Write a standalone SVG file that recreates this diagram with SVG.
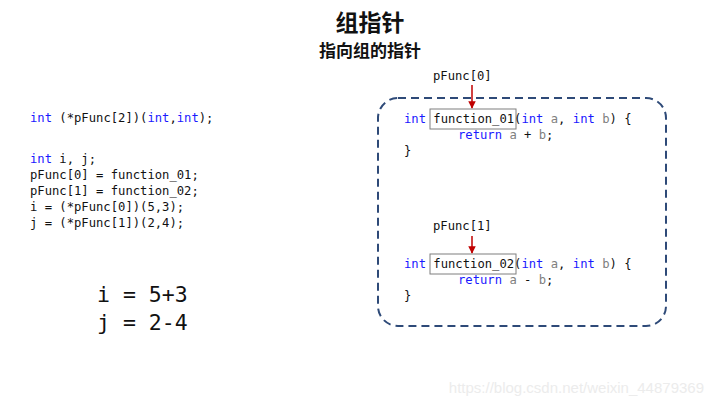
<svg xmlns="http://www.w3.org/2000/svg" width="720" height="405" viewBox="0 0 720 405">
<defs>
<style>
.code{font-family:"DejaVu Sans Mono","Liberation Mono",monospace;font-size:12.2px;fill:#111;white-space:pre}
.kw{fill:#1a1aff}
.pr{fill:#808080}
.big{font-family:"DejaVu Sans Mono","Liberation Mono",monospace;font-size:21.5px;fill:#111;white-space:pre}
.title{font-family:"Noto Sans CJK SC","Noto Sans",sans-serif;font-weight:bold;fill:#111;text-anchor:middle}
.fbox{fill:none;stroke:#7f7f7f;stroke-width:1}
.arrow{stroke:#c00000;stroke-width:1.5;fill:none}
</style>
<marker id="ah" viewBox="0 0 10 10" refX="9" refY="5" markerWidth="5" markerHeight="5" orient="auto">
<path d="M0,0 L10,5 L0,10 z" fill="#c00000"/>
</marker>
</defs>
<rect width="720" height="405" fill="#ffffff"/>
<g id="title">
<text class="title" x="370" y="31" font-size="23">组指针</text>
<text class="title" x="370" y="57" font-size="17">指向组的指针</text>
</g>
<g id="left-code">
<text class="code" x="30" y="122"><tspan class="kw">int</tspan> (*pFunc[2])(<tspan class="kw">int</tspan>,<tspan class="kw">int</tspan>);</text>
<text class="code" x="30" y="163"><tspan class="kw">int</tspan> i, j;</text>
<text class="code" x="30" y="179">pFunc[0] = function_01;</text>
<text class="code" x="30" y="195">pFunc[1] = function_02;</text>
<text class="code" x="30" y="211">i = (*pFunc[0])(5,3);</text>
<text class="code" x="30" y="227">j = (*pFunc[1])(2,4);</text>
</g>
<g id="results">
<text class="big" x="97" y="302">i = 5+3</text>
<text class="big" x="97" y="330">j = 2-4</text>
</g>
<g id="container">
<rect x="378" y="98" width="288" height="228" rx="20" ry="20" fill="none" stroke="#2e4a78" stroke-width="2" stroke-dasharray="8,5"/>
</g>
<g id="function_01">
<rect class="fbox" x="430" y="109" width="86" height="20"/>
<text class="code" x="404" y="123"><tspan class="kw">int</tspan> function_01(<tspan class="kw">int</tspan> <tspan class="pr">a</tspan>, <tspan class="kw">int</tspan> <tspan class="pr">b</tspan>) {</text>
<text class="code" x="458" y="139"><tspan class="kw">return</tspan> <tspan class="pr">a</tspan> + <tspan class="pr">b</tspan>;</text>
<text class="code" x="404" y="155">}</text>
</g>
<g id="function_02">
<rect class="fbox" x="430" y="254" width="86" height="20"/>
<text class="code" x="404" y="268"><tspan class="kw">int</tspan> function_02(<tspan class="kw">int</tspan> <tspan class="pr">a</tspan>, <tspan class="kw">int</tspan> <tspan class="pr">b</tspan>) {</text>
<text class="code" x="458" y="284"><tspan class="kw">return</tspan> <tspan class="pr">a</tspan> - <tspan class="pr">b</tspan>;</text>
<text class="code" x="404" y="300">}</text>
</g>
<g id="pFunc0">
<text class="code" x="433" y="80">pFunc[0]</text>
</g>
<g id="pFunc1">
<text class="code" x="433" y="230">pFunc[1]</text>
</g>
<g id="connectors">
<line class="arrow" x1="472" y1="85" x2="472" y2="108" marker-end="url(#ah)"/>
<line class="arrow" x1="472" y1="236" x2="472" y2="253" marker-end="url(#ah)"/>
</g>
<text x="704" y="393" text-anchor="end" font-family="Liberation Sans,Arial,sans-serif" font-size="15" fill="#ececec">https://blog.csdn.net/weixin_44879369</text>
</svg>
